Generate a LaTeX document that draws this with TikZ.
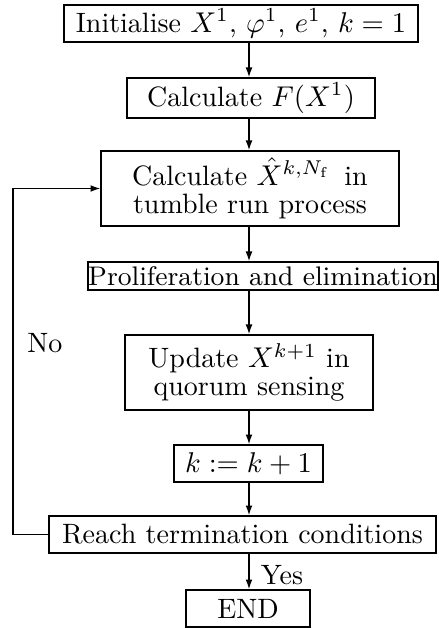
\documentclass[tikz,border=0pt]{standalone}
\usetikzlibrary{arrows.meta}
\newcommand{\pxu}{0.35pt}
\begin{document}
\begin{tikzpicture}[x=\pxu,y=-\pxu,
  every node/.style={font=\fontsize{9.8}{9.9}\selectfont},
  box/.style={draw,line width=0.55pt,inner sep=0pt,align=center},
  arr/.style={line width=0.45pt,-{Latex[length=3.4pt,width=2.4pt]}},
  lbl/.style={inner sep=0pt}]
\useasboundingbox (0,0) rectangle (438,628);
\coordinate (ax) at (249,0);
\coordinate (lx) at (13,0);
\node[box,minimum width=354*\pxu,minimum height=37*\pxu] (b1) at (241,23.5) {Initialise $X^1$, $\varphi^1$, $e^1$, $k=1$};
\node[box,minimum width=248*\pxu,minimum height=40*\pxu] (b2) at (251,98) {Calculate $F(X^1)$};
\node[box,minimum width=298*\pxu,minimum height=75*\pxu] (b3) at (250,188.5) {Calculate $\hat{X}^{k,N_\mathrm{f}}$\enspace in\\tumble run process};
\node[box,minimum width=348*\pxu,minimum height=28*\pxu,font=\fontsize{9.4}{11}\selectfont] (b4) at (263,276) {Proliferation and elimination};
\node[box,minimum width=248*\pxu,minimum height=75*\pxu] (b5) at (249,372.5) {Update $X^{k+1}$ in\\quorum sensing};
\node[box,minimum width=149*\pxu,minimum height=37*\pxu] (b6) at (248.5,463.5) {$k:=k+1$};
\node[box,minimum width=387*\pxu,minimum height=37*\pxu] (b7) at (242.5,534.5) {Reach termination conditions};
\node[box,minimum width=124*\pxu,minimum height=37*\pxu] (b8) at (248,608.5) {END};
\draw[arr] (b1.south -| ax) -- (b2.north -| ax);
\draw[arr] (b2.south -| ax) -- (b3.north -| ax);
\draw[arr] (b3.south -| ax) -- (b4.north -| ax);
\draw[arr] (b4.south -| ax) -- (b5.north -| ax);
\draw[arr] (b5.south -| ax) -- (b6.north -| ax);
\draw[arr] (b6.south -| ax) -- (b7.north -| ax);
\draw[arr] (b7.south -| ax) -- (b8.north -| ax);
\draw[arr] (b7.west) -- (b7.west -| lx) |- (b3.west);
\node[lbl] (no) at (45,343) {No};
\node[lbl] (yes) at (282,575) {Yes};
\end{tikzpicture}
\end{document}
